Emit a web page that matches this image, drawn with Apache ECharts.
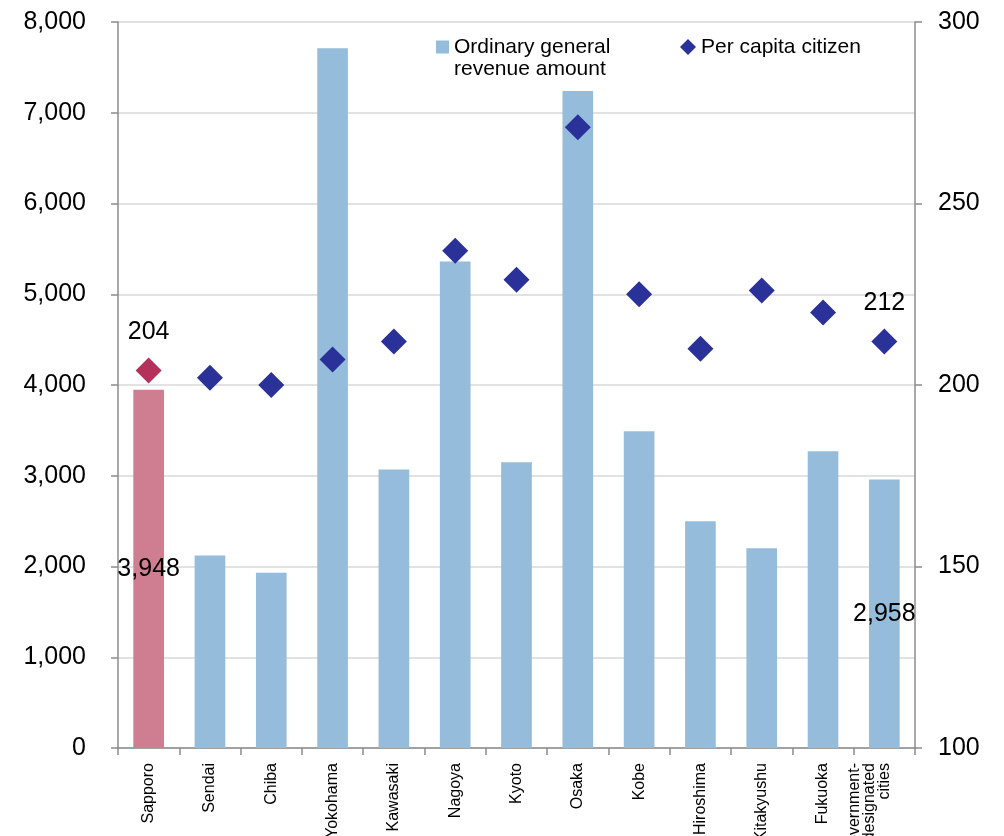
<!DOCTYPE html>
<html>
<head>
<meta charset="utf-8">
<script src="https://cdn.jsdelivr.net/npm/echarts@6/dist/echarts.min.js"></script>
<style>
  html, body { margin: 0; padding: 0; background: #ffffff; }
  #chart { width: 1004px; height: 836px; }
</style>
</head>
<body>
<div id="chart"></div>
<script>
// Cities (government-designated) along the category axis
const cities = ['Sapporo', 'Sendai', 'Chiba', 'Yokohama', 'Kawasaki', 'Nagoya', 'Kyoto',
  'Osaka', 'Kobe', 'Hiroshima', 'Kitakyushu', 'Fukuoka', 'Government-\ndesignated\ncities'];

// Ordinary general revenue amount (left axis)
const revenue = [3948, 2120, 1930, 7710, 3070, 5360, 3150, 7240, 3490, 2500, 2200, 3270, 2958];

// Per capita citizen (right axis)
const perCapita = [204, 202, 200, 207, 212, 237, 229, 271, 225, 210, 226, 220, 212];

// Axis ranges and tick steps
const leftAxis = { min: 0, max: 8000, step: 1000 };
const rightAxis = { min: 100, max: 300, step: 50 };

// Categories whose values are printed on the chart
const labelled = [0, cities.length - 1];
const highlighted = 0;

const FONT = 'Liberation Sans, Arial, Helvetica, sans-serif';
const BAR = '#95bcda';
const BAR_HI = '#cf7d91';
const DOT = '#2a3199';
const DOT_HI = '#b5305b';
const AXIS = '#8c8c8c';
const NUM_SIZE = 25;

const barData = revenue.map((v, i) => {
  const item = { value: v };
  if (i === highlighted) item.itemStyle = { color: BAR_HI };
  if (labelled.includes(i)) {
    item.label = {
      show: true, position: 'inside', color: '#000', fontSize: NUM_SIZE, fontFamily: FONT,
      formatter: p => p.value.toLocaleString('en-US')
    };
  }
  return item;
});

const dotData = perCapita.map((v, i) => {
  const item = { value: v };
  if (i === highlighted) item.itemStyle = { color: DOT_HI, opacity: 1 };
  if (labelled.includes(i)) {
    item.label = { show: true, position: 'top', distance: 13, color: '#000', fontSize: NUM_SIZE, fontFamily: FONT };
  }
  return item;
});

const chart = echarts.init(document.getElementById('chart'), null, { renderer: 'canvas' });

const legendText = { fontSize: 21, lineHeight: 22, color: '#000', fontFamily: FONT };
const lastIndex = cities.length - 1;

chart.setOption({
  animation: false,
  backgroundColor: '#ffffff',
  textStyle: { fontFamily: FONT },
  grid: { left: 118, right: 89, top: 22, bottom: 88, containLabel: false, outerBoundsMode: 'none' },
  legend: [
    {
      // leading blank line keeps the square level with the first text line
      left: 431, top: 9, itemWidth: 13, itemHeight: 13, itemGap: 0,
      data: [{ name: 'Ordinary general\nrevenue amount', icon: 'rect', itemStyle: { color: BAR } }],
      formatter: name => '\n' + name,
      textStyle: legendText
    },
    {
      left: 675, top: 31, itemWidth: 16, itemHeight: 16, itemGap: 0,
      data: [{ name: 'Per capita citizen', icon: 'diamond', itemStyle: { color: DOT } }],
      textStyle: legendText
    }
  ],
  xAxis: {
    type: 'category',
    data: cities,
    boundaryGap: true,
    axisLine: { lineStyle: { color: AXIS, width: 1.5 } },
    axisTick: { show: true, length: 7, lineStyle: { color: AXIS, width: 1.5 } },
    axisLabel: {
      rotate: 90, interval: 0, margin: 15, color: '#000', fontSize: 16, lineHeight: 15, fontFamily: FONT,
      // trailing blank lines shift the three-line label so its last line sits on the tick centre
      formatter: (v, i) => (i === lastIndex ? v + '\n\n' : v)
    },
    splitLine: { show: false }
  },
  yAxis: [
    {
      type: 'value', min: leftAxis.min, max: leftAxis.max, interval: leftAxis.step,
      axisLine: { show: true, lineStyle: { color: AXIS, width: 1.5 } },
      axisTick: { show: true, length: 7, lineStyle: { color: AXIS, width: 1.5 } },
      axisLabel: { margin: 32, color: '#000', fontSize: NUM_SIZE, fontFamily: FONT,
        formatter: v => v.toLocaleString('en-US') },
      splitLine: { show: true, lineStyle: { color: '#d9d9d9', width: 1.5 } }
    },
    {
      type: 'value', min: rightAxis.min, max: rightAxis.max, interval: rightAxis.step, position: 'right',
      axisLine: { show: true, lineStyle: { color: AXIS, width: 1.5 } },
      axisTick: { show: true, length: 7, lineStyle: { color: AXIS, width: 1.5 } },
      axisLabel: { margin: 23, color: '#000', fontSize: NUM_SIZE, fontFamily: FONT },
      splitLine: { show: false }
    }
  ],
  series: [
    {
      name: 'Ordinary general\nrevenue amount',
      type: 'bar',
      yAxisIndex: 0,
      barWidth: '50%',
      itemStyle: { color: BAR },
      data: barData,
      z: 2
    },
    {
      name: 'Per capita citizen',
      type: 'scatter',
      yAxisIndex: 1,
      symbol: 'diamond',
      symbolSize: 26,
      itemStyle: { color: DOT, opacity: 1 },
      data: dotData,
      z: 3
    }
  ]
});
</script>
</body>
</html>
